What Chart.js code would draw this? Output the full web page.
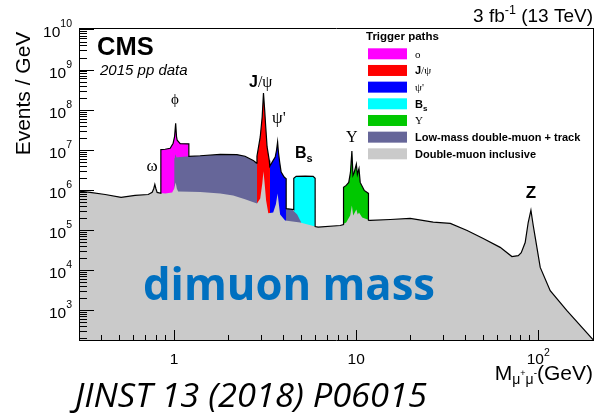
<!DOCTYPE html>
<html>
<head>
<meta charset="utf-8">
<script src="https://cdn.jsdelivr.net/npm/chart.js@4.4.1/dist/chart.umd.min.js"></script>
<style>
  html, body { margin: 0; padding: 0; background: #fff; }
  #wrap { position: relative; width: 594px; height: 413px; }
</style>
</head>
<body>
<div id="wrap"><canvas id="chart"></canvas></div>
<script>
// dimuon mass spectrum (GeV) vs events / GeV

// double-muon inclusive (grey)
var inclMass = [0.3, 0.345, 0.418, 0.511, 0.61, 0.72, 0.757, 0.772, 0.783, 0.794, 0.806, 0.892, 0.975, 1.0, 1.019, 1.035, 1.052,
    1.224, 1.39, 1.79, 2.11, 2.45, 2.85, 2.97, 3.05, 3.095, 3.14, 3.20, 3.29, 3.50, 3.62, 3.70, 3.76, 3.82, 4.07, 4.92, 6.18,
    8.17, 8.81, 9.27, 9.47, 9.63, 10.02, 10.2, 10.36, 10.79, 11.94, 15.4, 19.8, 26.5, 32.9, 40.7, 49.9, 61.8, 71.7, 77.7,
    80.7, 84.8, 88.1, 91.2, 93.9, 96.3, 102.6, 116.4, 143.8, 200];
var inclEvents = [9.4e5, 8.9e5, 7.9e5, 6.7e5, 7.5e5, 7.9e5, 9.0e5, 1.1e6, 1.41e6, 1.1e6, 8.9e5, 8.4e5, 8.9e5, 1.1e6, 1.58e6, 1.1e6, 9.4e5,
    9.2e5, 9.1e5, 8.4e5, 7.5e5, 6.0e5, 4.7e5, 6.3e5, 1.5e6, 3.0e6, 1.5e6, 5.6e5, 2.7e5, 2.8e5, 4.5e5, 8.4e5, 4.5e5, 2.5e5, 1.78e5, 1.58e5, 1.21e5,
    1.33e5, 1.58e5, 2.37e5, 4.2e5, 2.37e5, 3.35e5, 2.5e5, 2.8e5, 2.1e5, 1.78e5, 1.88e5, 2.0e5, 1.61e5, 1.5e5, 1.0e5, 6.3e4, 3.8e4, 2.24e4, 2.37e4,
    2.8e4, 5.0e4, 1.58e5, 3.2e5, 1.33e5, 6.7e4, 1.2e4, 3.16e3, 1.0e3, 190];

// sum of all trigger paths (black outline)
var totalMass = [0.3, 0.345, 0.418, 0.511, 0.61, 0.72, 0.757, 0.772, 0.783, 0.794, 0.806, 0.845, 0.845, 0.892, 0.951, 0.987,
    1.005, 1.019, 1.03, 1.039, 1.079, 1.204, 1.204, 1.39, 1.79, 2.21, 2.45, 2.72, 2.83, 2.85, 2.97, 3.045, 3.095, 3.143, 3.18,
    3.24, 3.33, 3.35, 3.50, 3.59, 3.65, 3.70, 3.74, 3.80, 3.87, 4.02, 4.125, 4.125, 4.45, 4.54, 4.54, 4.68, 5.25, 5.80, 5.95,
    5.95, 6.18, 8.17, 8.52, 8.52, 8.81, 9.10, 9.30, 9.47, 9.60, 9.75, 10.02, 10.15, 10.36, 10.52, 11.07, 11.68, 11.68, 11.94,
    15.4, 19.8, 26.5, 32.9, 40.7, 49.9, 61.8, 71.7, 77.7, 80.7, 84.8, 88.1, 91.2, 93.9, 96.3, 102.6, 116.4, 143.8, 200];
var totalEvents = [9.6e5, 8.9e5, 7.9e5, 6.7e5, 7.5e5, 7.9e5, 9.0e5, 1.1e6, 1.41e6, 1.1e6, 8.9e5, 8.5e5, 1.04e7, 1.06e7, 1.12e7, 1.5e7,
    2.2e7, 4.7e7, 2.2e7, 1.78e7, 1.47e7, 1.45e7, 7.1e6, 7.3e6, 7.9e6, 7.8e6, 7.1e6, 5.6e6, 4.8e6, 7.1e6, 2.15e7, 6.8e7, 2.66e8, 1.0e8, 4.2e7,
    1.21e7, 5.6e6, 4.0e6, 5.6e6, 6.8e6, 1.0e7, 1.61e7, 8.9e6, 5.0e6, 2.87e6, 2.15e6, 1.96e6, 3.5e5, 3.35e5, 3.3e5, 2.0e6, 2.24e6, 2.28e6, 2.24e6, 2.0e6,
    1.25e5, 1.21e5, 1.33e5, 1.4e5, 1.19e6, 1.33e6, 1.58e6, 2.8e6, 9.6e6, 2.37e6, 2.8e6, 4.5e6, 2.5e6, 3.5e6, 1.58e6, 1.0e6, 8.4e5, 1.8e5, 1.78e5,
    1.88e5, 2.0e5, 1.61e5, 1.5e5, 1.0e5, 6.3e4, 3.8e4, 2.24e4, 2.37e4, 2.8e4, 5.0e4, 1.58e5, 3.2e5, 1.33e5, 6.7e4, 1.2e4, 3.16e3, 1.0e3, 190];

// phi trigger (magenta)
var phiMass = [0.845, 0.892, 0.951, 0.987, 1.005, 1.019, 1.03, 1.039, 1.079, 1.204];
var phiEvents = [1.04e7, 1.06e7, 1.12e7, 1.5e7, 2.2e7, 4.7e7, 2.2e7, 1.78e7, 1.47e7, 1.45e7];

// low-mass double-muon + track (purple)
var trackMass = [1.0, 1.01, 1.019, 1.03, 1.079, 1.204, 1.39, 1.79, 2.21, 2.45, 2.72, 2.85, 3.0, 3.095, 3.2, 3.3, 3.45, 3.70,
    3.85, 4.0, 4.125, 4.45, 4.74, 4.99];
var trackEvents = [6.3e6, 7.0e6, 8.0e6, 6.6e6, 6.8e6, 7.1e6, 7.3e6, 7.9e6, 7.8e6, 7.1e6, 5.6e6, 4.7e6, 1.0e7, 2.0e7, 3.0e6, 1.2e6, 8.0e5, 1.4e6,
    6.0e5, 4.0e5, 3.5e5, 3.35e5, 2.5e5, 1.58e5];

// J/psi trigger (red)
var jpsiMass = [2.85, 2.97, 3.045, 3.095, 3.143, 3.18, 3.24, 3.33, 3.36];
var jpsiEvents = [7.1e6, 2.15e7, 6.8e7, 2.66e8, 1.0e8, 4.2e7, 1.21e7, 5.6e6, 4.5e6];

// psi' trigger (blue)
var psi2Mass = [3.35, 3.50, 3.59, 3.65, 3.70, 3.74, 3.80, 3.87, 4.02, 4.125];
var psi2Events = [4.0e6, 5.6e6, 6.8e6, 1.0e7, 1.61e7, 8.9e6, 5.0e6, 2.87e6, 2.15e6, 1.96e6];

// Bs trigger (cyan)
var bsMass = [4.54, 4.68, 5.25, 5.80, 5.95];
var bsEvents = [2.0e6, 2.24e6, 2.28e6, 2.24e6, 2.0e6];

// Upsilon trigger (green)
var upsMass = [8.52, 8.81, 9.10, 9.30, 9.47, 9.60, 9.75, 10.02, 10.15, 10.36, 10.52, 11.07, 11.68];
var upsEvents = [1.19e6, 1.33e6, 1.58e6, 2.8e6, 9.6e6, 2.37e6, 2.8e6, 4.5e6, 2.5e6, 3.5e6, 1.58e6, 1.0e6, 8.4e5];

// axis labels
var xLabelValues = [1, 10, 100];
var xLabelBase = ['1', '10', '10'];
var xLabelExp = ['', '', '2'];
var yLabelExps = [3, 4, 5, 6, 7, 8, 9, 10];

var X_MIN = 0.3, X_MAX = 200, Y_MIN = 186, Y_MAX = 1.12e10;

var COL = {
    phi: '#ff00ff', jpsi: '#ff0000', psi2: '#0000ff', bs: '#00ffff',
    ups: '#00c800', track: '#666699', incl: '#cacaca'
};
var SANS = '"Liberation Sans", Arial, sans-serif';
var SERIF = '"Liberation Serif", "Times New Roman", serif';

function pts(xs, ys) {
    return xs.map(function(x, i) {
        return {x: x, y: ys[i]};
    });
}

function area(label, xs, ys, color) {
    return {
        label: label,
        data: pts(xs, ys),
        backgroundColor: color,
        borderColor: 'transparent',
        borderWidth: 0,
        fill: 'start'
    };
}

// keep only 1..9 x 10^n ticks (Chart.js also puts ticks at 1.5, 15 ...)
function wholeTicks(s) {
    s.ticks = s.ticks.filter(function(t) {
        var m = t.value / Math.pow(10, Math.floor(Math.log10(t.value) + 1e-9));
        return Math.abs(m - Math.round(m)) < 1e-6 && t.value > s.min && t.value < s.max;
    });
}

function decadeTicks(s) {
    wholeTicks(s);
    s.ticks = s.ticks.filter(function(t) {
        var l = Math.log10(t.value);
        return Math.abs(l - Math.round(l)) < 1e-9;
    });
}

// ROOT look: axis frame with ticks pointing into the plot
function tickAxis(type, pos, min, max, len, width, height, weight, border, filter) {
    return {
        type: type,
        position: pos,
        min: min,
        max: max,
        weight: weight,
        grid: {
            display: len !== 0,
            drawOnChartArea: false,
            drawTicks: true,
            tickLength: -len,
            tickColor: '#000',
            tickWidth: 1,
            z: 2
        },
        border: {display: border, color: '#000', width: 1, z: 2},
        ticks: {display: false},
        afterBuildTicks: filter,
        afterFit: function(s) {
            if (width !== null) s.width = width;
            if (height !== null) s.height = height;
        }
    };
}

function rich(ctx, parts, x, y, align) {
    var w = 0;
    parts.forEach(function(p) {
        ctx.font = p.f;
        p.w = ctx.measureText(p.t).width;
        w += p.w;
    });
    var cx = x;
    if (align === 'center') cx = x - w / 2;
    if (align === 'right') cx = x - w;
    ctx.textAlign = 'left';
    ctx.textBaseline = 'alphabetic';
    parts.forEach(function(p) {
        ctx.font = p.f;
        ctx.fillText(p.t, cx, y + (p.dy || 0));
        cx += p.w;
    });
}

function fitText(ctx, text, font, x, y, width) {
    ctx.font = font;
    var w = ctx.measureText(text).width;
    ctx.save();
    ctx.translate(x, y);
    ctx.scale(width / w, 1);
    ctx.textAlign = 'left';
    ctx.textBaseline = 'alphabetic';
    ctx.fillText(text, 0, 0);
    ctx.restore();
}

// texts, labels and legend
var decor = {
    id: 'decor',
    afterDraw: function(chart) {
        var ctx = chart.ctx;
        var xs = chart.scales.x;
        var ys = chart.scales.y;
        ctx.save();
        ctx.fillStyle = '#000000';

        xLabelValues.forEach(function(val, i) {
            var parts = [{t: xLabelBase[i], f: '15.5px ' + SANS}];
            if (xLabelExp[i]) parts.push({t: xLabelExp[i], f: '10.5px ' + SANS, dy: -8});
            rich(ctx, parts, xs.getPixelForValue(val), 364, 'center');
        });
        yLabelExps.forEach(function(ex) {
            var py = ys.getPixelForValue(Math.pow(10, ex));
            rich(ctx, [
                {t: '10', f: '15.5px ' + SANS},
                {t: String(ex), f: '10.5px ' + SANS, dy: -10}
            ], 72, py + 7.5, 'right');
        });

        ctx.save();
        ctx.translate(30, 93.5);
        ctx.rotate(-Math.PI / 2);
        ctx.font = '21px ' + SANS;
        ctx.textAlign = 'center';
        ctx.textBaseline = 'alphabetic';
        ctx.fillText('Events / GeV', 0, 0);
        ctx.restore();

        rich(ctx, [
            {t: 'M', f: '21px ' + SANS},
            {t: '\u03bc', f: '14px ' + SANS, dy: 4},
            {t: '+', f: '9px ' + SANS, dy: -4},
            {t: '\u03bc', f: '14px ' + SANS, dy: 4},
            {t: '-', f: '10px ' + SANS, dy: -4},
            {t: '(GeV)', f: '21px ' + SANS}
        ], 593, 380, 'right');

        rich(ctx, [
            {t: '3 fb', f: '19px ' + SANS},
            {t: '-1', f: '12.5px ' + SANS, dy: -8},
            {t: ' (13 TeV)', f: '19px ' + SANS}
        ], 593, 21.5, 'right');
        rich(ctx, [{t: 'CMS', f: 'bold 25.5px ' + SANS}], 97, 55, 'left');
        rich(ctx, [{t: '2015 pp data', f: 'italic 15px ' + SANS}], 100, 75, 'left');

        // resonance labels
        rich(ctx, [{t: '\u03c9', f: '17px ' + SERIF}], 152, 171, 'center');
        rich(ctx, [{t: '\u03d5', f: '15px ' + SERIF}], 175, 104, 'center');
        rich(ctx, [{t: 'J', f: 'bold 16px ' + SANS}, {t: '/\u03c8', f: '16px ' + SERIF}], 249, 87, 'left');
        rich(ctx, [{t: '\u03c8\'', f: '17px ' + SERIF}], 272, 123, 'left');
        rich(ctx, [{t: 'B', f: 'bold 16px ' + SANS}, {t: 's', f: 'bold 11px ' + SANS, dy: 4}], 295, 158, 'left');
        rich(ctx, [{t: '\u03a5', f: '16px ' + SERIF}], 351.7, 141.7, 'center');
        rich(ctx, [{t: 'Z', f: 'bold 17px ' + SANS}], 531, 198, 'center');

        // legend
        rich(ctx, [{t: 'Trigger paths', f: 'bold 11.5px ' + SANS}], 366, 40, 'left');
        var leg = [
            [COL.phi, [{t: '\u03bf', f: '11px ' + SERIF}]],
            [COL.jpsi, [{t: 'J', f: 'bold 11px ' + SANS}, {t: '/\u03c8', f: '11px ' + SERIF}]],
            [COL.psi2, [{t: '\u03c8\'', f: '11px ' + SERIF}]],
            [COL.bs, [{t: 'B', f: 'bold 11px ' + SANS}, {t: 's', f: 'bold 8px ' + SANS, dy: 3}]],
            [COL.ups, [{t: '\u03a5', f: '11px ' + SERIF}]],
            [COL.track, [{t: 'Low-mass double-muon + track', f: 'bold 11px ' + SANS}]],
            [COL.incl, [{t: 'Double-muon inclusive', f: 'bold 11px ' + SANS}]]
        ];
        leg.forEach(function(row, i) {
            var top = 48.3 + i * 16.67;
            ctx.fillStyle = row[0];
            ctx.fillRect(368, top, 39, 11);
            ctx.fillStyle = '#000';
            rich(ctx, row[1], 415, top + 9.5, 'left');
        });

        ctx.fillStyle = '#0070c0';
        fitText(ctx, 'dimuon mass', 'bold 44px "Open Sans", ' + SANS, 143, 299.5, 292);
        ctx.fillStyle = '#000';
        fitText(ctx, 'JINST 13 (2018) P06015', 'italic 32px "Open Sans", ' + SANS, 75, 406.5, 352);

        ctx.restore();
    }
};

var chart = new Chart(document.getElementById('chart'), {
    type: 'line',
    data: {
        datasets: [
            {
                label: 'total',
                data: pts(totalMass, totalEvents),
                borderColor: '#000',
                borderWidth: 1.2,
                fill: false
            },
            area('Double-muon inclusive', inclMass, inclEvents, COL.incl),
            area('J/\u03c8', jpsiMass, jpsiEvents, COL.jpsi),
            area('\u03c8\'', psi2Mass, psi2Events, COL.psi2),
            area('Low-mass double-muon + track', trackMass, trackEvents, COL.track),
            area('Bs', bsMass, bsEvents, COL.bs),
            area('\u03d5', phiMass, phiEvents, COL.phi),
            area('\u03a5', upsMass, upsEvents, COL.ups)
        ]
    },
    options: {
        responsive: true,
        maintainAspectRatio: false,
        animation: false,
        layout: {padding: {top: 28, right: 1}},
        elements: {point: {radius: 0}, line: {tension: 0}},
        plugins: {legend: {display: false}, tooltip: {enabled: false}},
        scales: {
            // minor ticks + bottom / left frame
            x: tickAxis('logarithmic', 'bottom', X_MIN, X_MAX, 5, null, 73, 1, true, wholeTicks),
            y: tickAxis('logarithmic', 'left', Y_MIN, Y_MAX, 8, 79, null, 1, true, wholeTicks),
            // longer ticks at the decades
            xDec: tickAxis('logarithmic', 'bottom', X_MIN, X_MAX, 10, null, 0, 0, false, decadeTicks),
            yDec: tickAxis('logarithmic', 'left', Y_MIN, Y_MAX, 15, 0, null, 0, false, decadeTicks),
            // top and right frame lines
            xTop: tickAxis('linear', 'top', 0, 1, 0, null, 0, 0, true, function(s) { s.ticks = []; }),
            yRight: tickAxis('linear', 'right', 0, 1, 0, 0, null, 0, true, function(s) { s.ticks = []; })
        }
    },
    plugins: [decor]
});
</script>
</body>
</html>
